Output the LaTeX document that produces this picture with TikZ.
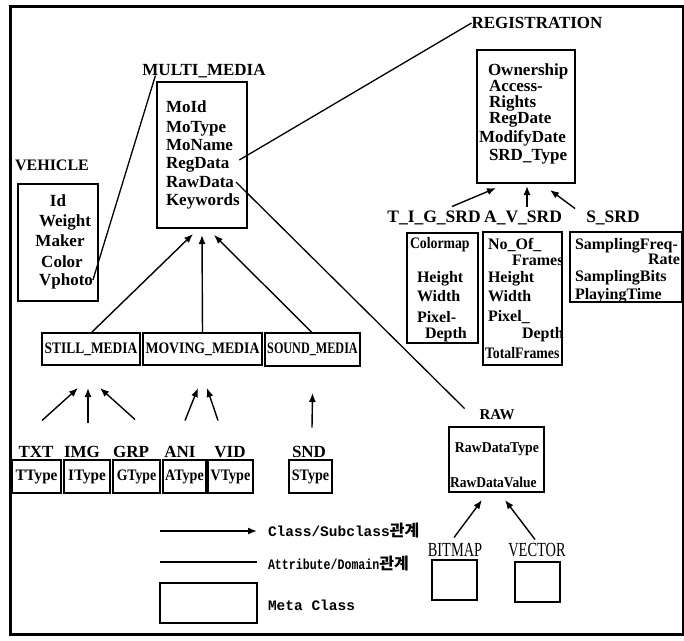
\documentclass[tikz,border=0pt]{standalone}
\usepackage{graphicx}
\usepackage{fontspec}
\setmainfont{Liberation Serif}
\newfontfamily\monofont{Liberation Mono}
\newfontfamily\krfont{Noto Sans CJK KR}
\usetikzlibrary{arrows.meta}
\newcommand\myfs[1]{\fontsize{#1}{#1}\selectfont}
\begin{document}
\begin{tikzpicture}[x=1pt,y=-1pt,
  box/.style={draw, line width=2.6pt, inner sep=0pt, outer sep=0pt},
  tbox/.style={draw, line width=1.5pt, inner sep=0pt, outer sep=0pt},
  txt/.style={inner sep=0pt, outer sep=0pt, text height=11pt, text depth=0pt, font={\bfseries\myfs{17}}},
  att/.style={txt, anchor=west},
  srd/.style={att, font={\bfseries\myfs{16}}},
  isa/.style={line width=1.4pt, -{Latex[length=9pt,width=7pt]}},
  rel/.style={line width=1.3pt},
]
\useasboundingbox (0,0) rectangle (684,640);
\draw[line width=3pt] (10,6) rectangle (683,634);

% MULTI_MEDIA
\node[txt] (mmlbl) at (204,70) {MULTI\_MEDIA};
\node[box, minimum width=90pt, minimum height=146pt] (mm) at (202,155) {};
\node[att] (moid) at (166,107) {MoId};
\node[att] (motype) at (166,127) {MoType};
\node[att] (moname) at (166,145) {MoName};
\node[att] (regdata) at (166,163) {RegData};
\node[att] (rawdata) at (166,182) {RawData};
\node[att] (keywords) at (166,200) {Keywords};

% VEHICLE
\node[txt, font={\bfseries\myfs{16}}] (vehlbl) at (52,165) {VEHICLE};
\node[box, minimum width=80pt, minimum height=117pt] (veh) at (58,242.5) {};
\node[txt] (vehid) at (58,201) {Id};
\node[txt] (weight) at (65,221) {Weight};
\node[txt] (maker) at (60,241) {Maker};
\node[txt] (color) at (62,262) {Color};
\node[txt] (vphoto) at (66,280) {Vphoto};

% REGISTRATION
\node[txt] (reglbl) at (537,23) {REGISTRATION};
\node[box, minimum width=98pt, minimum height=133pt] (reg) at (526,116.5) {};
\node[att] (own) at (488,70) {Ownership};
\node[att] (acc) at (489,86) {Access-};
\node[att] (rights) at (489,102) {Rights};
\node[att] (regdate) at (489,118) {RegDate};
\node[att] (moddate) at (479,137) {ModifyDate};
\node[att] (srdtype) at (489,155) {SRD\_Type};

% SRD classes
\node[txt, font={\bfseries\myfs{17.5}}] (tiglbl) at (434,217) {T\_I\_G\_SRD};
\node[txt, font={\bfseries\myfs{17.5}}] (avlbl) at (523,217) {A\_V\_SRD};
\node[txt, font={\bfseries\myfs{17.5}}] (slbl) at (613,217) {S\_SRD};

\node[box, minimum width=71pt, minimum height=110pt] (tig) at (442.5,288) {};
\node[srd] (cmap) at (410,243) {\scalebox{0.86}[1]{Colormap}};
\node[srd] (tigh) at (417,277) {Height};
\node[srd] (tigw) at (417,296) {Width};
\node[srd] (tigp) at (417,317) {Pixel-};
\node[srd] (tigd) at (425,333) {Depth};

\node[box, minimum width=79pt, minimum height=133pt] (av) at (522.5,298.5) {};
\node[srd] (noof) at (488,244) {No\_Of\_};
\node[srd] (frames) at (512,260) {Frames};
\node[srd] (avh) at (488,277) {Height};
\node[srd] (avw) at (488,296) {Width};
\node[srd] (avp) at (488,316) {Pixel\_};
\node[srd] (avd) at (522,333) {Depth};
\node[srd] (totf) at (485,353) {\scalebox{0.86}[1]{TotalFrames}};

\node[box, minimum width=112pt, minimum height=70pt] (ss) at (626,267) {};
\node[srd] (sfreq) at (575,244) {SamplingFreq-};
\node[srd, anchor=east] (rate) at (680,259) {Rate};
\node[srd] (sbits) at (575,276) {SamplingBits};
\node[srd] (ptime) at (575,294) {PlayingTime};

% MEDIA subclasses
\node[box, minimum width=98pt, minimum height=32pt, font={\bfseries\myfs{16}}] (still) at (91,349) {\scalebox{0.84}[1]{STILL\_MEDIA}};
\node[box, minimum width=119pt, minimum height=32pt, font={\bfseries\myfs{16}}] (moving) at (202.5,349) {\scalebox{0.86}[1]{MOVING\_MEDIA}};
\node[box, minimum width=95pt, minimum height=33pt, font={\bfseries\myfs{16}}] (sound) at (312.5,349.5) {\scalebox{0.76}[1]{SOUND\_MEDIA}};

% leaf labels
\node[txt] (txtl) at (36,452) {TXT};
\node[txt] (imgl) at (82,452) {IMG};
\node[txt] (grpl) at (131,452) {GRP};
\node[txt] (anil) at (180,452) {ANI};
\node[txt] (vidl) at (230,452) {VID};
\node[txt] (sndl) at (309,452) {SND};

\node[tbox, minimum width=49pt, minimum height=33pt, font={\bfseries\myfs{16}}] (ttype) at (36.5,476.5) {\scalebox{0.95}[1]{TType}};
\node[tbox, minimum width=46pt, minimum height=33pt, font={\bfseries\myfs{16}}] (itype) at (87,476.5) {\scalebox{0.95}[1]{IType}};
\node[tbox, minimum width=47pt, minimum height=33pt, font={\bfseries\myfs{16}}] (gtype) at (136.5,476.5) {\scalebox{0.86}[1]{GType}};
\node[tbox, minimum width=43pt, minimum height=33pt, font={\bfseries\myfs{16}}] (atype) at (184.5,476.5) {\scalebox{0.88}[1]{AType}};
\node[tbox, minimum width=45pt, minimum height=33pt, font={\bfseries\myfs{16}}] (vtype) at (230.5,476.5) {\scalebox{0.88}[1]{VType}};
\node[tbox, minimum width=43pt, minimum height=33pt, font={\bfseries\myfs{16}}] (stype) at (310.5,476.5) {\scalebox{0.88}[1]{SType}};

% RAW
\node[txt, font={\bfseries\myfs{15}}] (rawlbl) at (497,414) {RAW};
\node[box, minimum width=95pt, minimum height=65pt] (raw) at (496.5,459.5) {};
\node[txt, font={\bfseries\myfs{15}}] (rdtype) at (497,447) {\scalebox{0.92}[1]{RawDataType}};
\node[txt, font={\bfseries\myfs{15}}, anchor=west] (rdvalue) at (450,482) {\scalebox{0.9}[1]{RawDataValue}};

\node[txt, font=\myfs{20}] (bitmap) at (455,551) {\scalebox{0.72}[1]{BITMAP}};
\node[txt, font=\myfs{20}] (vector) at (537,551) {\scalebox{0.72}[1]{VECTOR}};
\node[tbox, minimum width=45pt, minimum height=40pt] (bitbox) at (454.5,580) {};
\node[tbox, minimum width=45pt, minimum height=40pt] (vecbox) at (537.5,582) {};

% generalisation arrows
\draw[isa] (still.north) -- ([xshift=-9pt,yshift=-6pt]mm.south);
\draw[isa] (moving.north) -- ([yshift=-7pt]mm.south);
\draw[isa] (sound.north) -- ([xshift=12pt,yshift=-7pt]mm.south);

\draw[isa] ([xshift=6pt,yshift=26pt]txtl.north) -- ([xshift=-13pt,yshift=-23pt]still.south);
\draw[isa] ([xshift=6pt,yshift=24pt]imgl.north) -- ([xshift=-3pt,yshift=-23pt]still.south);
\draw[isa] ([xshift=4pt,yshift=27pt]grpl.north) -- ([xshift=9pt,yshift=-23pt]still.south);
\draw[isa] ([xshift=5pt,yshift=26pt]anil.north) -- ([xshift=-4.5pt,yshift=-23pt]moving.south);
\draw[isa] ([xshift=-12pt,yshift=26pt]vidl.north) -- ([xshift=4.5pt,yshift=-23pt]moving.south);
\draw[isa] ([xshift=3pt,yshift=19pt]sndl.north) -- ([yshift=-27pt]sound.south);

\draw[isa] ([xshift=18pt,yshift=5pt]tiglbl.north) -- ([xshift=-30pt,yshift=-5pt]reg.south);
\draw[isa] ([xshift=4pt,yshift=5pt]avlbl.north) -- ([xshift=1pt,yshift=-3pt]reg.south);
\draw[isa] ([xshift=-38pt,yshift=3pt]slbl.north) -- ([xshift=24pt,yshift=-7pt]reg.south);

\draw[isa] ([xshift=-1pt,yshift=8pt]bitmap.north) -- ([xshift=-14.5pt,yshift=-8pt]raw.south);
\draw[isa] ([xshift=-2pt,yshift=6pt]vector.north) -- ([xshift=8.5pt,yshift=-8pt]raw.south);

% attribute / domain relations
\draw[rel] (vphoto.east) -- ([xshift=13pt]mmlbl.south west);
\draw[rel] ([xshift=10pt,yshift=3pt]regdata.east) -- (reglbl.west);
\draw[rel] ([xshift=2pt]rawdata.east) -- ([xshift=-15pt]rawlbl.north west);

% legend
\coordinate (la1) at (160,531);
\coordinate (la2) at (257,531);
\coordinate (lb1) at (160,562);
\coordinate (lb2) at (257,562);
\draw[isa] (la1) -- (la2);
\draw[rel] (lb1) -- (lb2);
\node[box, minimum width=97pt, minimum height=40pt] (legbox) at (208.5,603) {};
\node[att, font={\monofont\bfseries\myfs{14.5}}] (leg1) at (268,531) {Class/Subclass{\krfont\bfseries\myfs{16}관계}};
\node[att, font={\monofont\bfseries\myfs{14.5}}] (leg2) at (268,564) {\scalebox{0.8}[1]{Attribute/Domain}{\krfont\bfseries\myfs{16}관계}};
\node[att, font={\monofont\bfseries\myfs{14.5}}] (leg3) at (268,605) {Meta Class};
\end{tikzpicture}
\end{document}
